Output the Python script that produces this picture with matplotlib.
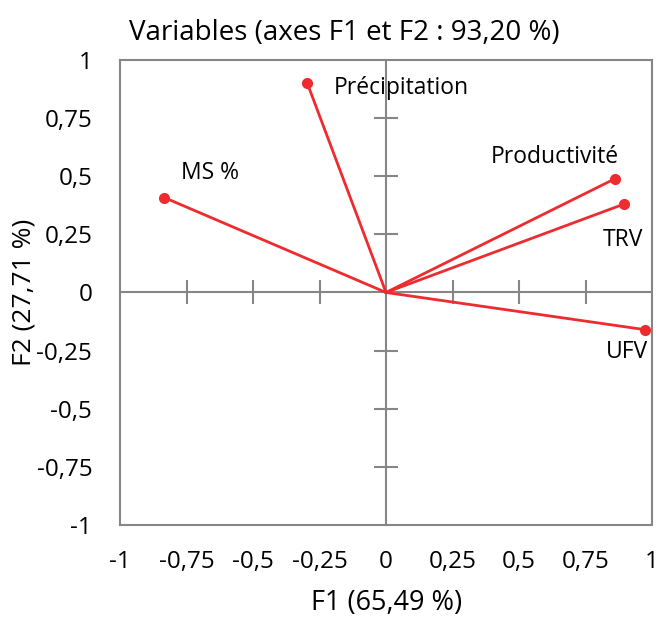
import matplotlib
matplotlib.use("Agg")
import matplotlib.pyplot as plt

plt.rcParams['font.family'] = ['Open Sans', 'DejaVu Sans']

# variable coordinates on F1 / F2
variables = ["Précipitation", "MS %", "Productivité", "TRV", "UFV"]
f1 = [-0.296, -0.833, 0.862, 0.894, 0.974]
f2 = [0.900, 0.408, 0.490, 0.380, -0.160]

ticks = [-1, -0.75, -0.5, -0.25, 0, 0.25, 0.5, 0.75, 1]
tick_labels = ["-1", "-0,75", "-0,5", "-0,25", "0", "0,25", "0,5", "0,75", "1"]
inner_ticks = [-0.75, -0.5, -0.25, 0.25, 0.5, 0.75]

# label offsets in pixels and alignment
label_pos = {
    "Précipitation": (26, -5, "left"),
    "MS %": (17, 25, "left"),
    "Productivité": (4, 22, "right"),
    "TRV": (19, -36, "right"),
    "UFV": (3, -22, "right"),
}

red = "#EE2B2F"
grey = "#868686"

fig = plt.figure(figsize=(6.59, 6.19), dpi=100)
ax = fig.add_axes([0.1821, 0.1519, 0.8073, 0.7512])

ax.set_xlim(-1, 1)
ax.set_ylim(-1, 1)

ax.axhline(0, color=grey, lw=1.5, zorder=1)
ax.axvline(0, color=grey, lw=1.5, zorder=1)
ax.plot(inner_ticks, [0] * len(inner_ticks), ls="none", marker="|",
        ms=17, mew=1.5, color=grey, zorder=1)
ax.plot([0] * len(inner_ticks), inner_ticks, ls="none", marker="_",
        ms=17, mew=1.5, color=grey, zorder=1)

for name, x, y in zip(variables, f1, f2):
    ax.plot([0, x], [0, y], color=red, lw=2, zorder=3)
    ax.plot(x, y, "o", color=red, ms=7, zorder=4)
    dx, dy, ha = label_pos[name]
    ax.annotate(name, (x, y), xytext=(dx, dy), textcoords="offset pixels",
                ha=ha, va="center", fontsize=16.5)

for s in ax.spines.values():
    s.set_color(grey)
    s.set_linewidth(1.5)

ax.set_xticks(ticks)
ax.set_xticklabels(tick_labels)
ax.set_yticks(ticks)
ax.set_yticklabels(tick_labels)
ax.tick_params(length=0, labelsize=17.5)
ax.tick_params(axis="x", pad=18)
ax.tick_params(axis="y", pad=20)

fig.text(387 / 659, 1 - 603 / 619, "F1 (65,49 %)", ha="center", va="center",
         fontsize=19.5)
fig.text(24 / 659, 1 - 292 / 619, "F2 (27,71 %)", ha="center", va="center",
         rotation=90, fontsize=19)
fig.text(344 / 659, 1 - 33 / 619, "Variables (axes F1 et F2 : 93,20 %)",
         ha="center", va="center", fontsize=20)

fig.savefig("out.png", dpi=100)
